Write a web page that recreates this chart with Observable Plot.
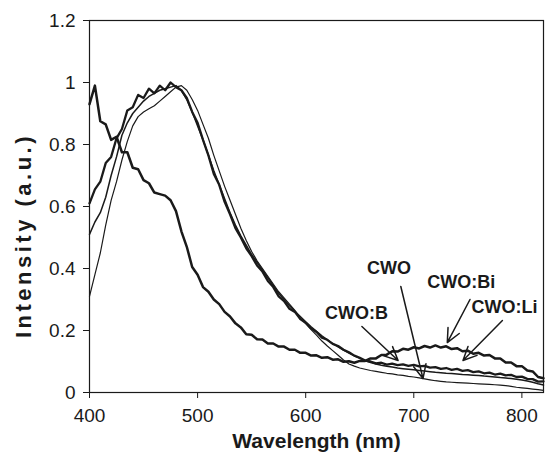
<!DOCTYPE html>
<html>
<head>
<meta charset="utf-8">
<script src="https://cdn.jsdelivr.net/npm/d3@7"></script>
<script src="https://cdn.jsdelivr.net/npm/@observablehq/plot@0.6"></script>
<style>
  html, body { margin: 0; padding: 0; background: #fff; }
  #chart svg { display: block; }
</style>
</head>
<body>
<div id="chart"></div>
<script>
const wavelength = [400,405,410,415,420,425,430,435,440,445,450,455,460,465,470,475,480,485,490,495,
  500,505,510,515,520,525,530,535,540,545,550,555,560,565,570,575,580,585,590,595,
  600,605,610,615,620,625,630,635,640,645,650,655,660,665,670,675,680,685,690,695,
  700,705,710,715,720,725,730,735,740,745,750,755,760,765,770,775,780,785,790,795,
  800,805,810,815,820];

const cwoBi = [0.93,0.99,0.875,0.865,0.815,0.825,0.775,0.775,0.725,0.72,0.685,0.675,0.645,0.64,0.635,0.62,0.585,0.52,0.47,0.405,
  0.38,0.34,0.325,0.3,0.285,0.26,0.245,0.223,0.21,0.188,0.186,0.172,0.171,0.158,0.158,0.148,0.148,0.138,0.138,0.128,
  0.128,0.119,0.12,0.112,0.114,0.106,0.107,0.099,0.101,0.096,0.102,0.102,0.11,0.11,0.121,0.122,0.133,0.132,0.141,0.138,
  0.146,0.142,0.15,0.145,0.152,0.145,0.149,0.14,0.143,0.133,0.135,0.125,0.128,0.119,0.121,0.11,0.11,0.097,0.097,0.085,
  0.085,0.071,0.068,0.05,0.046];

const cwoLi = [0.61,0.655,0.68,0.74,0.76,0.82,0.85,0.91,0.92,0.96,0.95,0.98,0.965,0.99,0.975,1.0,0.985,0.975,0.95,0.905,
  0.87,0.815,0.765,0.705,0.67,0.615,0.575,0.53,0.50,0.465,0.44,0.41,0.39,0.36,0.34,0.31,0.295,0.27,0.26,0.237,
  0.225,0.207,0.195,0.177,0.17,0.157,0.15,0.138,0.13,0.119,0.112,0.103,0.10,0.094,0.096,0.09,0.093,0.088,0.091,0.086,
  0.089,0.084,0.086,0.08,0.082,0.076,0.079,0.073,0.076,0.07,0.072,0.066,0.068,0.062,0.064,0.058,0.061,0.055,0.057,0.05,
  0.051,0.044,0.043,0.035,0.036];

const cwoB = [0.51,0.55,0.58,0.63,0.70,0.76,0.83,0.87,0.90,0.92,0.94,0.955,0.965,0.975,0.98,0.985,0.99,0.975,0.945,0.905,
  0.86,0.815,0.765,0.715,0.67,0.625,0.58,0.54,0.505,0.475,0.445,0.42,0.395,0.37,0.345,0.32,0.30,0.28,0.262,0.245,
  0.228,0.212,0.197,0.183,0.17,0.158,0.147,0.137,0.127,0.118,0.11,0.103,0.097,0.092,0.088,0.085,0.082,0.079,0.077,0.075,
  0.073,0.071,0.069,0.067,0.065,0.064,0.062,0.061,0.06,0.058,0.057,0.056,0.055,0.053,0.052,0.05,0.048,0.047,0.045,0.043,
  0.04,0.037,0.033,0.028,0.024];

const cwo = [0.31,0.38,0.45,0.54,0.62,0.68,0.75,0.81,0.86,0.89,0.905,0.915,0.925,0.94,0.955,0.97,0.985,0.99,0.975,0.945,
  0.91,0.865,0.82,0.765,0.715,0.665,0.62,0.575,0.53,0.49,0.455,0.425,0.40,0.375,0.35,0.325,0.305,0.285,0.265,0.24,
  0.222,0.203,0.185,0.166,0.15,0.135,0.12,0.105,0.092,0.085,0.079,0.075,0.071,0.068,0.065,0.062,0.06,0.057,0.055,0.052,
  0.05,0.047,0.044,0.041,0.038,0.036,0.034,0.033,0.032,0.031,0.03,0.029,0.028,0.027,0.026,0.025,0.024,0.022,0.02,0.017,
  0.015,0.013,0.011,0.009,0.007];

const xTicks = [400, 500, 600, 700, 800];
const xTickLabels = ["400", "500", "600", "700", "800"];
const yTicks = [0, 0.2, 0.4, 0.6, 0.8, 1, 1.2];
const yTickLabels = ["0", "0.2", "0.4", "0.6", "0.8", "1", "1.2"];
const xTitle = "Wavelength (nm)";
const yTitle = "Intensity (a.u.)";

// annotation labels (data units)
const labelNames = ["CWO", "CWO:Bi", "CWO:Li", "CWO:B"];
const labelX = [677, 744, 784, 647];
const labelY = [0.40, 0.355, 0.274, 0.255];
// annotation arrows (data units): start -> end
const arrowX1 = [688, 752, 782, 652];
const arrowY1 = [0.342, 0.30, 0.232, 0.213];
const arrowX2 = [708.5, 731, 745.5, 685.5];
const arrowY2 = [0.045, 0.161, 0.103, 0.103];

const toRows = (vals) => wavelength.map((w, i) => ({w, v: vals[i]}));
const labels = labelNames.map((t, i) => ({t, x: labelX[i], y: labelY[i]}));
const arrows = labelNames.map((t, i) => ({x1: arrowX1[i], y1: arrowY1[i], x2: arrowX2[i], y2: arrowY2[i]}));

const ink = "#1a1a1a";
const chart = Plot.plot({
  width: 545,
  height: 458,
  marginLeft: 89,
  marginRight: 2,
  marginTop: 20,
  marginBottom: 66,
  style: {fontFamily: "'Liberation Sans', Arial, Helvetica, sans-serif", fontSize: "19px", color: ink, background: "#fff"},
  x: {domain: [400, 820]},
  y: {domain: [0, 1.2]},
  marks: [
    Plot.line(toRows(cwo), {x: "w", y: "v", stroke: ink, strokeWidth: 1.2}),
    Plot.line(toRows(cwoB), {x: "w", y: "v", stroke: ink, strokeWidth: 1.5}),
    Plot.line(toRows(cwoLi), {x: "w", y: "v", stroke: ink, strokeWidth: 2.3}),
    Plot.line(toRows(cwoBi), {x: "w", y: "v", stroke: ink, strokeWidth: 2.5}),
    Plot.arrow(arrows, {x1: "x1", y1: "y1", x2: "x2", y2: "y2", stroke: ink, strokeWidth: 1.5, headLength: 15, headAngle: 50, insetEnd: 0, insetStart: 0}),
    Plot.text(labels, {x: "x", y: "y", text: "t", fontWeight: "bold", fontSize: 18, fill: ink}),
    Plot.frame({stroke: ink, strokeWidth: 1.2}),
    Plot.axisX({ticks: xTicks, tickFormat: (d) => xTickLabels[xTicks.indexOf(d)], tickSize: 6, tickPadding: 10, label: null, stroke: ink}),
    Plot.axisY({ticks: yTicks, tickFormat: (d) => yTickLabels[yTicks.indexOf(d)], tickSize: 6, tickPadding: 8, label: null, stroke: ink}),
    Plot.text([xTitle], {frameAnchor: "bottom", lineAnchor: "middle", textAnchor: "middle", dy: 49, fontWeight: "bold", fontSize: 21, fill: ink}),
    Plot.text([yTitle], {frameAnchor: "left", lineAnchor: "middle", textAnchor: "middle", rotate: -90, dx: -66, dy: 29, fontWeight: "bold", fontSize: 22, fill: ink})
  ]
});
document.getElementById("chart").appendChild(chart);
// widen the y title's letter spacing to match the reference
chart.querySelectorAll("text").forEach((t) => {
  if (t.textContent === yTitle) t.style.letterSpacing = "3.5px";
});
</script>
</body>
</html>
